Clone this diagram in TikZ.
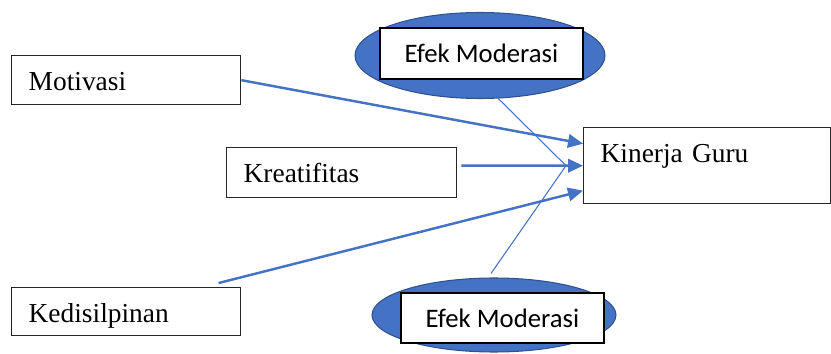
\documentclass[tikz,border=0pt]{standalone}
\usepackage{fontspec}
\setmainfont{Liberation Serif}
\newfontfamily\calibri{Carlito}
\usepackage{xcolor}
\usepackage{tikz}
\usetikzlibrary{positioning, arrows.meta, shapes.geometric, calc}

\definecolor{biru}{HTML}{4472C4}
\definecolor{birutua}{HTML}{2F528F}

\begin{document}
\begin{tikzpicture}[x=0.02cm, y=-0.02cm,
    kotak/.style={rectangle, draw=black!85, line width=0.8pt, anchor=north west,
        inner xsep=0.34cm, inner ysep=0pt, align=left, text height=0.7cm,
        font=\fontsize{15.6}{18}\selectfont},
    lonjong/.style={ellipse, draw=birutua, fill=biru, line width=0.6pt, inner sep=0pt},
    label/.style={rectangle, draw=black, fill=white, line width=0.8pt, inner sep=0pt,
        font=\calibri\fontsize{15.2}{18}\selectfont},
    panah/.style={draw=biru, line width=1.4pt, -{Triangle[length=0.3cm, width=0.27cm]}},
    tipis/.style={draw=biru, line width=0.6pt}]
    \useasboundingbox (0,0) rectangle (831,354);

    \node (motivasi) [kotak, text width=3.9cm, text depth=0.28cm] at (11,55) {Motivasi};
    \node (kreatifitas) [kotak, text width=3.92cm, text depth=0.3cm] at (226,147) {Kreatifitas};
    \node (kedisiplinan) [kotak, text width=3.9cm, text depth=0.26cm] at (11,287) {Kedisilpinan};
    \node (kinerja) [kotak, text width=4.26cm, text depth=0.82cm] at (583,127) {Kinerja Guru};

    \node (efekatas) [lonjong, minimum width=5cm, minimum height=1.72cm] at (480,55.5) {};
    \node (labelatas) [label, minimum width=4.06cm, minimum height=1.02cm] at (481.5,53.5) {Efek Moderasi};
    \node (efekbawah) [lonjong, minimum width=4.88cm, minimum height=1.48cm] at (494,315) {};
    \node (labelbawah) [label, minimum width=4.06cm, minimum height=1cm] at (502.5,318) {Efek Moderasi};

    \coordinate (temu) at ([xshift=-0.34cm]kinerja.west);

    % garis moderasi
    \draw[tipis] (efekatas.-67) -- (temu);
    \draw[tipis] ([xshift=-0.06cm, yshift=0.08cm]efekbawah.north) -- (temu);

    \draw[panah] (motivasi.east) -- ([yshift=0.44cm]kinerja.west);
    \draw[panah] ([xshift=0.08cm, yshift=0.14cm]kreatifitas.east) -- (kinerja.west);
    \draw[panah] ([xshift=1.85cm, yshift=0.08cm]kedisiplinan.north) -- ([yshift=-0.5cm]kinerja.west);
\end{tikzpicture}
\end{document}
